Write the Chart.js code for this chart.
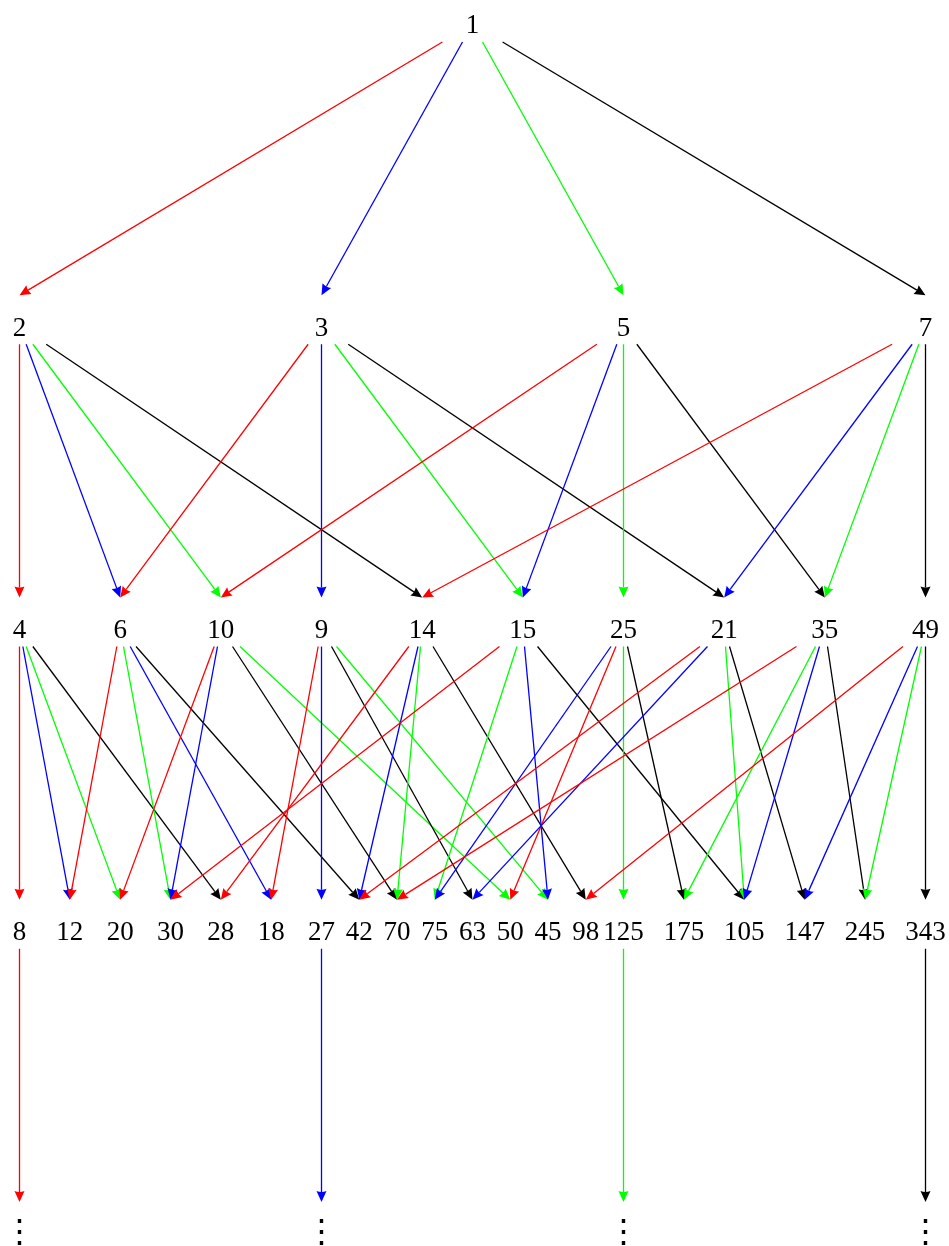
<!DOCTYPE html>
<html><head><meta charset="utf-8">
<script src="https://cdn.jsdelivr.net/npm/chart.js@4"></script>
<style>html,body{margin:0;padding:0;background:#fff}#wrap{width:949px;height:1246px;position:relative}</style>
</head><body><div id="wrap"><canvas id="c"></canvas></div>
<script>
// ---- data ----
const level0Labels = ['1'];
const level0X = [4.5];
const level1Labels = ['2','3','5','7'];
const level1X = [0,3,6,9];
const level2Labels = ['4','6','10','9','14','15','25','21','35','49'];
const level2X = [0,1,2,3,4,5,6,7,8,9];
const level3Labels = ['8','12','20','30','28','18','27','42','70','75','63','50','45','98','125','175','105','147','245','343'];
const level3X = [0,0.5,1,1.5,2,2.5,3,3.375,3.75,4.125,4.5,4.875,5.25,5.625,6,6.6,7.2,7.8,8.4,9];
const level4Labels = ['⋮','⋮','⋮','⋮'];
const level4X = [0,3,6,9];

const factors = [2,3,5,7];
const factorColors = ['#ff0000','#0000ff','#00ff00','#000000'];

// edges: [source label, target label]
const edges01 = [['1','2'],['1','3'],['1','5'],['1','7']];
const edges12 = [['2','4'],['2','6'],['2','10'],['2','14'],['3','6'],['3','9'],['3','15'],['3','21'],
  ['5','10'],['5','15'],['5','25'],['5','35'],['7','14'],['7','21'],['7','35'],['7','49']];
const edges23 = [['4','8'],['4','12'],['4','20'],['4','28'],['6','12'],['6','18'],['6','30'],['6','42'],
  ['10','20'],['10','30'],['10','50'],['10','70'],['9','18'],['9','27'],['9','45'],['9','63'],
  ['14','28'],['14','42'],['14','70'],['14','98'],['15','30'],['15','45'],['15','75'],['15','105'],
  ['25','50'],['25','75'],['25','125'],['25','175'],['21','42'],['21','63'],['21','105'],['21','147'],
  ['35','70'],['35','105'],['35','175'],['35','245'],['49','98'],['49','147'],['49','245'],['49','343']];
// level 3 -> level 4: [source label, index of dots node, factor]
const edges34 = [['8',0,2],['27',1,3],['125',2,5],['343',3,7]];

// ---- build nodes ----
const levels = [
  [level0Labels, level0X], [level1Labels, level1X], [level2Labels, level2X],
  [level3Labels, level3X], [level4Labels, level4X]
];
const nodePoints = [];
levels.forEach(([labs, xs], lv) => labs.forEach((l, i) => nodePoints.push({x: xs[i], y: lv, label: l, level: lv, idx: i})));
function findNode(level, label) { return nodePoints.find(p => p.level === level && p.label === label); }
function findNodeIdx(level, idx) { return nodePoints.find(p => p.level === level && p.idx === idx); }

const edgeList = [];
[[edges01,0],[edges12,1],[edges23,2]].forEach(([arr, lv]) => arr.forEach(([s, t]) => {
  const f = Number(t) / Number(s);
  edgeList.push({s: findNode(lv, s), t: findNode(lv + 1, t), color: factorColors[factors.indexOf(f)]});
}));
edges34.forEach(([s, ti, f]) => edgeList.push({s: findNode(3, s), t: findNodeIdx(4, ti), color: factorColors[factors.indexOf(f)]}));

const FONT = '27px "Liberation Serif", "Times New Roman", serif';

const graphPlugin = {
  id: 'graph',
  afterDatasetsDraw(chart) {
    const ctx = chart.ctx, xs = chart.scales.x, ys = chart.scales.y;
    const startOff = 18, tipOff = 31, headLen = 11, headHalf = 5;
    ctx.save();
    edgeList.forEach(e => {
      const sx = xs.getPixelForValue(e.s.x), sy = ys.getPixelForValue(e.s.y);
      const tx = xs.getPixelForValue(e.t.x), ty = ys.getPixelForValue(e.t.y) - tipOff;
      const k = startOff / (ty - sy);
      const x0 = sx + (tx - sx) * k, y0 = sy + startOff;
      const dx = tx - x0, dy = ty - y0, len = Math.hypot(dx, dy);
      const ux = dx / len, uy = dy / len;
      const bx = tx - ux * headLen, by = ty - uy * headLen;
      ctx.strokeStyle = e.color; ctx.fillStyle = e.color; ctx.lineWidth = 1.3;
      ctx.beginPath(); ctx.moveTo(x0, y0); ctx.lineTo(bx + ux * 1, by + uy * 1); ctx.stroke();
      ctx.beginPath();
      ctx.moveTo(tx, ty);
      ctx.lineTo(bx - uy * headHalf, by + ux * headHalf);
      ctx.quadraticCurveTo(bx + ux * 2, by + uy * 2, bx + uy * headHalf, by - ux * headHalf);
      ctx.closePath(); ctx.fill();
    });
    ctx.fillStyle = '#000';
    ctx.font = FONT;
    ctx.textAlign = 'center';
    ctx.textBaseline = 'alphabetic';
    nodePoints.forEach(p => {
      const px = xs.getPixelForValue(p.x), py = ys.getPixelForValue(p.y);
      if (p.level === 4) {
        ctx.save();
        ctx.font = '33px "DejaVu Serif", serif';
        ctx.textBaseline = 'middle';
        ctx.fillText(p.label, px, py + 1);
        ctx.restore();
      } else {
        ctx.fillText(p.label, px, py + 9.5);
      }
    });
    ctx.restore();
  }
};

new Chart(document.getElementById('c'), {
  type: 'scatter',
  data: { datasets: [{ data: nodePoints.map(p => ({x: p.x, y: p.y})), pointRadius: 0, pointHoverRadius: 0 }] },
  options: {
    responsive: true, maintainAspectRatio: false, animation: false,
    layout: { padding: 0 },
    events: [],
    plugins: { legend: { display: false }, tooltip: { enabled: false } },
    scales: {
      x: { type: 'linear', display: false, min: -0.1937, max: 9.2334 },
      y: { type: 'linear', display: false, reverse: true, min: -0.0794, max: 4.043 }
    }
  },
  plugins: [graphPlugin]
});
</script></body></html>
